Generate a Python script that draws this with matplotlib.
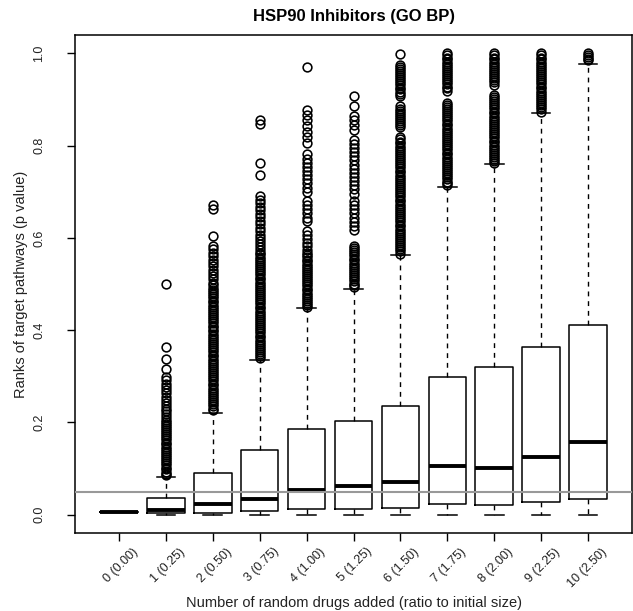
import matplotlib
matplotlib.use("Agg")
import matplotlib.pyplot as plt

plt.rcParams['font.family'] = ['Liberation Sans', 'DejaVu Sans']

# x categories (number of random drugs added, ratio to initial size)
labels = ['0 (0.00)', '1 (0.25)', '2 (0.50)', '3 (0.75)', '4 (1.00)', '5 (1.25)',
          '6 (1.50)', '7 (1.75)', '8 (2.00)', '9 (2.25)', '10 (2.50)']

# box statistics
med    = [0.006, 0.009, 0.023, 0.034, 0.054, 0.063, 0.071, 0.105, 0.100, 0.124, 0.157]
q1     = [0.006, 0.004, 0.004, 0.008, 0.011, 0.011, 0.014, 0.023, 0.020, 0.028, 0.033]
q3     = [0.006, 0.035, 0.091, 0.139, 0.186, 0.202, 0.236, 0.299, 0.321, 0.364, 0.412]
whislo = [0.006, 0.0, 0.0, 0.0, 0.0, 0.0, 0.0, 0.0, 0.0, 0.0, 0.0]
whishi = [0.006, 0.082, 0.221, 0.335, 0.447, 0.490, 0.563, 0.710, 0.760, 0.870, 0.977]

# outliers (open circles); the black runs are closely packed points
fl0 = []
fl1 = [0.50, 0.363, 0.338, 0.315, 0.299, 0.291, 0.284, 0.277, 0.270, 0.263, 0.256,
       0.249, 0.242, 0.236, 0.230, 0.224, 0.218, 0.212, 0.206,
       0.201, 0.197, 0.192, 0.188, 0.183, 0.179, 0.174, 0.170, 0.165, 0.161, 0.156,
       0.152, 0.147, 0.143, 0.138, 0.134, 0.129, 0.125, 0.120, 0.116, 0.111, 0.107,
       0.102, 0.098, 0.093, 0.089, 0.085]
fl2 = [0.672, 0.662, 0.604, 0.582, 0.576, 0.568, 0.560, 0.551, 0.545, 0.538, 0.530,
       0.524, 0.517, 0.510, 0.503, 0.497,
       0.491, 0.487, 0.482, 0.478, 0.473, 0.469, 0.464, 0.460, 0.455, 0.451, 0.446,
       0.442, 0.437, 0.433, 0.428, 0.424, 0.419, 0.415, 0.410, 0.406, 0.401, 0.397,
       0.392, 0.388, 0.383, 0.379, 0.374, 0.370, 0.365, 0.361, 0.356, 0.352, 0.347,
       0.343, 0.338, 0.334, 0.329, 0.325, 0.320, 0.316, 0.311, 0.307, 0.302, 0.298,
       0.293, 0.289, 0.284, 0.280, 0.275, 0.271, 0.266, 0.262, 0.257, 0.253, 0.248,
       0.244, 0.239, 0.235, 0.230, 0.226]
fl3 = [0.855, 0.846, 0.763, 0.737, 0.690, 0.683, 0.676, 0.668, 0.660, 0.652, 0.645,
       0.637, 0.630, 0.622, 0.614, 0.606, 0.600, 0.593, 0.586, 0.580, 0.574,
       0.568, 0.564, 0.559, 0.555, 0.550, 0.546, 0.541, 0.537, 0.532, 0.528, 0.523,
       0.519, 0.514, 0.510, 0.505, 0.501, 0.496, 0.492, 0.487, 0.483, 0.478, 0.474,
       0.469, 0.465, 0.460, 0.456, 0.451, 0.447, 0.442, 0.438, 0.433, 0.429, 0.424,
       0.420, 0.415, 0.411, 0.406, 0.402, 0.397, 0.393, 0.388, 0.384, 0.379, 0.375,
       0.370, 0.366, 0.361, 0.357, 0.352, 0.348, 0.343, 0.339]
fl4 = [0.970, 0.878, 0.866, 0.855, 0.842, 0.830, 0.818, 0.806, 0.781, 0.772, 0.763,
       0.754, 0.745, 0.736, 0.727, 0.718, 0.709, 0.700, 0.680, 0.671, 0.662, 0.653,
       0.644, 0.636, 0.615, 0.607, 0.598, 0.590, 0.582, 0.574, 0.567,
       0.562, 0.558, 0.553, 0.549, 0.544, 0.540, 0.535, 0.531, 0.526, 0.522, 0.517,
       0.513, 0.508, 0.504, 0.499, 0.495, 0.490, 0.486, 0.481, 0.477, 0.472, 0.468,
       0.463, 0.459, 0.454, 0.450]
fl5 = [0.907, 0.886, 0.864, 0.855, 0.845, 0.835, 0.813, 0.804, 0.795, 0.786, 0.777,
       0.768, 0.759, 0.750, 0.741, 0.732, 0.723, 0.714, 0.705, 0.696, 0.680, 0.671,
       0.662, 0.653, 0.644, 0.635, 0.626, 0.617,
       0.582, 0.578, 0.573, 0.569, 0.564, 0.560, 0.555, 0.551, 0.546, 0.542, 0.537,
       0.533, 0.528, 0.524, 0.519, 0.515, 0.510, 0.506, 0.501, 0.497, 0.493]
fl6 = [0.998,
       0.976, 0.971, 0.967, 0.962, 0.958, 0.953, 0.949, 0.944, 0.940, 0.935, 0.931,
       0.926, 0.922, 0.917, 0.913, 0.908,
       0.885, 0.880, 0.876, 0.871, 0.867, 0.862, 0.858, 0.853, 0.849, 0.844, 0.840,
       0.818, 0.814, 0.809, 0.805, 0.800, 0.796, 0.791, 0.787, 0.782, 0.778, 0.773,
       0.769, 0.764, 0.760, 0.755, 0.751, 0.746, 0.742, 0.737, 0.733, 0.728, 0.724,
       0.719, 0.715, 0.710, 0.706, 0.701, 0.697, 0.692, 0.688, 0.683, 0.679, 0.674,
       0.670, 0.665, 0.661, 0.656, 0.652, 0.647, 0.643, 0.638, 0.634, 0.629, 0.625,
       0.620, 0.616, 0.611, 0.607, 0.602, 0.598, 0.593, 0.589, 0.584, 0.580, 0.575,
       0.571, 0.566]
fl7 = [1.000, 0.996, 0.991, 0.987, 0.982, 0.978, 0.973, 0.969, 0.964, 0.960, 0.955,
       0.951, 0.946, 0.942, 0.937, 0.933, 0.928, 0.924, 0.919,
       0.893, 0.889, 0.884, 0.880, 0.875, 0.871, 0.866, 0.862, 0.857, 0.853, 0.848,
       0.844, 0.839, 0.835, 0.830, 0.826, 0.821, 0.817, 0.812, 0.808, 0.803, 0.799,
       0.794, 0.790, 0.785, 0.781, 0.776, 0.772, 0.767, 0.763, 0.758, 0.754, 0.749,
       0.745, 0.740, 0.736, 0.731, 0.727, 0.722, 0.718, 0.714]
fl8 = [1.000, 0.996, 0.991, 0.987, 0.982, 0.978, 0.973, 0.969, 0.964, 0.960, 0.955,
       0.951, 0.946, 0.942, 0.937, 0.932,
       0.910, 0.906, 0.901, 0.897, 0.892, 0.888, 0.883, 0.879, 0.874, 0.870, 0.865,
       0.861, 0.856, 0.852, 0.847, 0.843, 0.838, 0.834, 0.829, 0.825, 0.820, 0.816,
       0.811, 0.807, 0.802, 0.798, 0.793, 0.789, 0.784, 0.780, 0.775, 0.771, 0.766,
       0.763]
fl9 = [1.000, 0.996, 0.991, 0.987, 0.982, 0.978, 0.973, 0.969, 0.964, 0.960, 0.955,
       0.951, 0.946, 0.942, 0.937, 0.933, 0.928, 0.924, 0.919, 0.915, 0.910, 0.906,
       0.901, 0.897, 0.892, 0.888, 0.883, 0.879, 0.874]
fl10 = [1.000, 0.997, 0.993, 0.989, 0.985]
fliers = [fl0, fl1, fl2, fl3, fl4, fl5, fl6, fl7, fl8, fl9, fl10]

cutoff = 0.05
yticks = [0.0, 0.2, 0.4, 0.6, 0.8, 1.0]

stats = []
for i in range(len(labels)):
    stats.append(dict(med=med[i], q1=q1[i], q3=q3[i], whislo=whislo[i],
                      whishi=whishi[i], fliers=fliers[i], label=labels[i]))

fig = plt.figure(figsize=(6.33, 6.11), dpi=100)
ax = fig.add_axes([75/633, 78/611, 557/633, 498/611])

pos = list(range(1, len(labels) + 1))
ax.bxp(stats, positions=pos, widths=0.8,
       boxprops=dict(color='black', lw=1.1),
       medianprops=dict(color='black', lw=2.8, solid_capstyle='butt'),
       whiskerprops=dict(color='black', lw=1.0, linestyle=(0, (3.5, 3.5))),
       capprops=dict(color='black', lw=1.1),
       flierprops=dict(marker='o', markerfacecolor='none', markeredgecolor='black',
                       markersize=6.3, markeredgewidth=1.15, linestyle='none'))

ax.axhline(cutoff, color='#999999', lw=1.5, zorder=5)

ax.set_xlim(0.06, 11.94)
ax.set_ylim(-0.04, 1.04)

ax.set_xticks(pos)
ax.set_xticklabels([])
ax.set_yticks(yticks)
ax.set_yticklabels(['%.1f' % v for v in yticks], rotation=90, va='center', fontsize=9,
                   color='#222222')
ax.tick_params(axis='both', direction='out', length=6, width=1.0, color='black')
ax.tick_params(axis='y', pad=15.5)
for s in ax.spines.values():
    s.set_linewidth(1.1)

tr = ax.get_xaxis_transform()
for p, lab in zip(pos, labels):
    ax.text(p + 0.36, -0.034, lab, transform=tr, rotation=45, rotation_mode='anchor',
            ha='right', va='center', fontsize=9, color='#222222')

fig.text(354/633, 1 - 603/611, 'Number of random drugs added (ratio to initial size)',
         ha='center', va='center', fontsize=10.5, color='#222222')
fig.text(21/633, 1 - 284/611, 'Ranks of target pathways (p value)', rotation=90,
         ha='center', va='center', fontsize=10.5, color='#222222')
fig.text(354/633, 1 - 16/611, 'HSP90 Inhibitors (GO BP)', ha='center', va='center',
         fontsize=12, fontweight='bold')

fig.savefig('out.png', dpi=100)
